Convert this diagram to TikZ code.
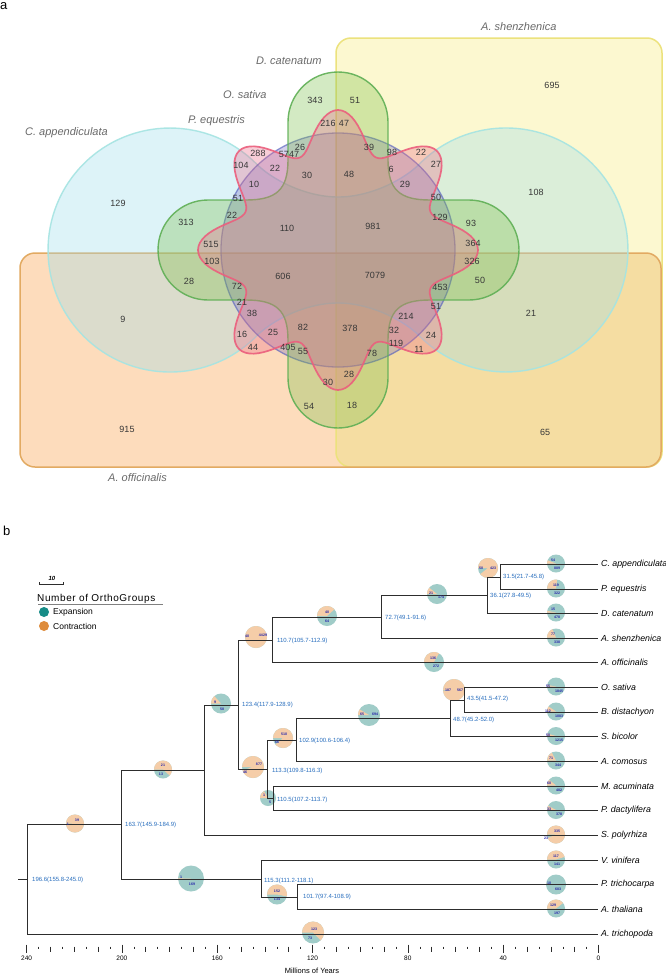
\documentclass[tikz,border=0pt]{standalone}
\usepackage{fontspec}
\setmainfont{Liberation Sans}
\definecolor{yelF}{RGB}{252,248,208}
\definecolor{yelD}{RGB}{236,226,125}
\definecolor{oraF}{RGB}{253,220,188}
\definecolor{oraD}{RGB}{226,170,98}
\definecolor{mixF}{RGB}{245,221,162}
\definecolor{cyaF}{RGB}{158,221,235}
\definecolor{cyaD}{RGB}{165,228,226}
\definecolor{bluF}{RGB}{110,100,190}
\definecolor{bluD}{RGB}{85,95,190}
\definecolor{greF}{RGB}{120,190,70}
\definecolor{greD}{RGB}{95,175,85}
\definecolor{pinF}{RGB}{235,110,140}
\definecolor{pinD}{RGB}{235,95,125}
\definecolor{vtxt}{RGB}{55,55,55}
\definecolor{vlab}{RGB}{105,105,105}
\definecolor{tealP}{RGB}{160,204,200}
\definecolor{oranP}{RGB}{245,205,168}
\definecolor{pnumc}{RGB}{40,40,170}
\definecolor{agec}{RGB}{40,110,190}
\definecolor{branchc}{RGB}{45,45,45}
\definecolor{legT}{RGB}{23,140,135}
\definecolor{legO}{RGB}{222,140,60}
\newcounter{nn}
\newcommand\vn[3]{\stepcounter{nn}\node[vnum] (v\arabic{nn}) at (#1,#2) {#3};}
\newcommand\pnum[3]{\stepcounter{nn}\node[pienum] (q\arabic{nn}) at (#1,#2) {#3};}
\newcommand\agelab[3]{\stepcounter{nn}\node[agelabel] (g\arabic{nn}) at (#1,#2) {#3};}
\newcommand\orthopie[4]{\stepcounter{nn}\coordinate (pc\arabic{nn}) at (#1,#2);%
 \fill[tealP] (pc\arabic{nn}) circle[radius=#3];%
 \fill[oranP] (pc\arabic{nn}) -- ++(180:#3) arc[start angle=180, end angle={180+#4}, radius=#3] -- cycle;}
\begin{document}
\begin{tikzpicture}[x=1pt,y=-1pt,
 vnum/.style={font=\fontsize{9}{9}\selectfont, text=vtxt, inner sep=0pt},
 vlabel/.style={font=\fontsize{11}{11}\selectfont\itshape, text=vlab, inner sep=0pt, anchor=west},
 pienum/.style={font=\fontsize{3.6}{4}\selectfont\bfseries, text=pnumc, inner sep=0pt},
 agelabel/.style={font=\fontsize{6}{6}\selectfont, text=agec, inner sep=0pt, anchor=west},
 tiplabel/.style={font=\fontsize{8.8}{9}\selectfont\itshape, inner sep=0pt, anchor=west},
 branch/.style={draw=branchc, line width=1.4pt},
 cya/.style={fill=cyaF, fill opacity=0.35, draw=cyaD, draw opacity=0.9, line width=1.4pt},
 blu/.style={fill=bluF, fill opacity=0.3, draw=bluD, draw opacity=0.65, line width=1.3pt},
 gre/.style={fill=greF, fill opacity=0.32, draw=greD, draw opacity=0.9, line width=1.4pt},
 pin/.style={fill=pinF, fill opacity=0.34, draw=pinD, draw opacity=0.9, line width=1.7pt},
 tick/.style={draw=branchc, line width=0.5pt}]
\useasboundingbox (0,0) rectangle (666,975);
\fill[white] (0,0) rectangle (666,975);
% ---------------- panel a ----------------
\node[anchor=west, inner sep=0pt, font=\fontsize{13}{13}\selectfont] (pa) at (0,6) {a};
\fill[yelF, rounded corners=15pt] (336,38) rectangle (662,467);
\fill[oraF, rounded corners=15pt] (20,253) rectangle (661,467);
\begin{scope}
\clip[rounded corners=15pt] (336,38) rectangle (662,467);
\fill[mixF, rounded corners=15pt] (20,253) rectangle (661,467);
\end{scope}
\draw[yelD, line width=1.5pt, rounded corners=15pt] (336,38) rectangle (662,467);
\draw[oraD, line width=1.5pt, rounded corners=15pt] (20,253) rectangle (661,467);
% dumbbell
\path[cya] (256.3,163.7) .. controls (271,179) and (305,197) .. (338,197)
  .. controls (371,197) and (405,179) .. (419.7,163.7)
  arc[start angle=-135, end angle=135, radius=122]
  .. controls (405,321) and (371,303) .. (338,303)
  .. controls (305,303) and (271,321) .. (256.3,336.3)
  arc[start angle=45, end angle=315, radius=122] -- cycle;
% blue circle
\path[blu] (338,250) circle[radius=117];
% green cross
\path[gre] (288,122) arc[start angle=180, end angle=360, radius=50]
  -- (388,160) .. controls (388,190) and (400,200) .. (430,200)
  -- (469,200) arc[start angle=-90, end angle=90, radius=50]
  -- (430,300) .. controls (400,300) and (388,310) .. (388,340)
  -- (388,378) arc[start angle=0, end angle=180, radius=50]
  -- (288,340) .. controls (288,310) and (276,300) .. (246,300)
  -- (208,300) arc[start angle=90, end angle=270, radius=50]
  -- (246,200) .. controls (276,200) and (288,190) .. (288,160) -- cycle;
% pink flower
\path[pin] plot[domain=0:358.5, samples=240, variable=\t]
  ({338+(120+20*cos(8*\t))*cos(\t)}, {250+(120+20*cos(8*\t))*sin(\t)}) -- cycle;
% labels
\node[vlabel] (lca) at (25,133) {C. appendiculata};
\node[vlabel] (lpe) at (188,121) {P. equestris};
\node[vlabel] (los) at (223,95) {O. sativa};
\node[vlabel] (ldc) at (256,61) {D. catenatum};
\node[vlabel] (las) at (481,27) {A. shenzhenica};
\node[vlabel] (lao) at (108,478) {A. officinalis};
% numbers
\vn{315}{100}{343}\vn{328}{123}{216}\vn{344}{123}{47}\vn{258}{153}{288}
\vn{289}{154}{5747}\vn{300}{147}{26}\vn{241}{165}{104}\vn{275}{168}{22}
\vn{307}{175}{30}\vn{254}{184}{10}\vn{238}{198}{51}\vn{118}{203}{129}
\vn{232}{215}{22}\vn{186}{222}{313}\vn{287}{228}{110}\vn{552}{85}{695}
\vn{355}{100}{51}\vn{369}{147}{39}\vn{392}{152}{98}\vn{421}{152}{22}
\vn{436}{164}{27}\vn{391}{169}{6}\vn{349}{174}{48}\vn{405}{184}{29}
\vn{536}{192}{108}\vn{436}{197}{50}\vn{440}{217}{129}\vn{471}{223}{93}
\vn{373}{226}{981}\vn{211}{244}{515}\vn{212}{261}{103}\vn{283}{276}{606}
\vn{189}{281}{28}\vn{237}{286}{72}\vn{242}{302}{21}\vn{123}{319}{9}
\vn{252}{313}{38}\vn{303}{327}{82}\vn{242}{334}{16}\vn{273}{332}{25}
\vn{253}{347}{44}\vn{288}{347}{405}\vn{303}{351}{55}\vn{328}{382}{30}
\vn{309}{406}{54}\vn{127}{429}{915}\vn{473}{243}{364}\vn{472}{261}{326}
\vn{375}{275}{7079}\vn{480}{280}{50}\vn{440}{287}{453}\vn{436}{306}{51}
\vn{531}{313}{21}\vn{406}{316}{214}\vn{350}{328}{378}\vn{394}{330}{32}
\vn{431}{335}{24}\vn{396}{343}{119}\vn{419}{349}{11}\vn{372}{353}{78}
\vn{349}{374}{28}\vn{352}{405}{18}\vn{545}{432}{65}
% ---------------- panel b ----------------
\node[anchor=west, inner sep=0pt, font=\fontsize{13}{13}\selectfont] (pb) at (3,531) {b};
% scale bar and legend
\node[inner sep=0pt, font=\fontsize{6}{6}\selectfont\bfseries\itshape] (sbl) at (52,578) {10};
\draw[line width=0.6pt, draw=branchc] (39,582) -- (39,584.5) -- (63,584.5) -- (63,582);
\node[anchor=west, inner sep=0pt, font=\fontsize{10}{10}\selectfont\addfontfeature{LetterSpace=6}] (lgt) at (37,599) {Number of OrthoGroups};
\draw[line width=0.5pt, draw=gray] (38,604.5) -- (163,604.5);
\fill[legT] (44,612) circle[radius=5];
\fill[legO] (44,626) circle[radius=5];
\node[anchor=west, inner sep=0pt, font=\fontsize{8.5}{9}\selectfont] (lge) at (53,612) {Expansion};
\node[anchor=west, inner sep=0pt, font=\fontsize{8.5}{9}\selectfont] (lgc) at (53,626) {Contraction};
% tree coordinates
\coordinate (t0) at (598,564.5); \coordinate (t1) at (598,589.5);
\coordinate (t2) at (598,613.5); \coordinate (t3) at (598,638.5);
\coordinate (t4) at (598,662.5); \coordinate (t5) at (598,687.5);
\coordinate (t6) at (598,712.5); \coordinate (t7) at (598,736.5);
\coordinate (t8) at (598,761.5); \coordinate (t9) at (598,786.5);
\coordinate (t10) at (598,810.5); \coordinate (t11) at (598,835.5);
\coordinate (t12) at (598,860.5); \coordinate (t13) at (598,884.5);
\coordinate (t14) at (598,909.5); \coordinate (t15) at (598,934.5);
\coordinate (n315) at (500.5,577.5);
\coordinate (n361) at (487.5,595.5);
\coordinate (n727) at (381.5,617.5);
\coordinate (n1107) at (272.5,640.5);
\coordinate (n435) at (464.5,700.5);
\coordinate (n487) at (450.5,718.5);
\coordinate (n1029) at (296.5,740.5);
\coordinate (n1105) at (273.5,798.5);
\coordinate (n1133) at (267.5,769.5);
\coordinate (n1234) at (238.5,705.5);
\coordinate (nS) at (204.5,770.5);
\coordinate (n1017) at (297.5,897.5);
\coordinate (n1153) at (261.5,879.5);
\coordinate (n1637) at (121.5,824.5);
\coordinate (root) at (27.5,879.5);
\coordinate (rs) at (18,879.5);
% pies
\orthopie{75}{823.5}{9}{351}
\orthopie{163}{769.5}{9}{222}
\orthopie{221}{703.5}{10}{48}
\orthopie{256}{637}{11}{357}
\orthopie{253}{767}{11}{342}
\orthopie{283}{738}{10}{319}
\orthopie{268}{798}{8}{60}
\orthopie{369}{715}{11}{31}
\orthopie{454}{690}{11}{355}
\orthopie{327}{616}{10}{138}
\orthopie{437}{594}{10}{39}
\orthopie{488}{568}{10}{322}
\orthopie{191}{878.5}{13}{2}
\orthopie{277}{894.5}{10}{191}
\orthopie{556}{563.5}{9}{21}
\orthopie{556}{588.5}{9}{97}
\orthopie{556}{612.5}{9}{11}
\orthopie{556}{637.5}{9}{67}
\orthopie{434}{662}{10}{120}
\orthopie{556}{686.5}{9}{10}
\orthopie{556}{711.5}{9}{34}
\orthopie{556}{736}{9}{16}
\orthopie{556}{760.5}{9}{62}
\orthopie{556}{785.5}{9}{40}
\orthopie{556}{810}{9}{29}
\orthopie{556}{834.5}{9}{337}
\orthopie{556}{859.5}{9}{163}
\orthopie{556}{884.5}{10}{5}
\orthopie{556}{908.5}{9}{142}
\orthopie{313}{932.5}{11}{226}
% branches
\draw[branch] (n315) |- (t0); \draw[branch] (n315) |- (t1);
\draw[branch] (n361) |- (n315); \draw[branch] (n361) |- (t2);
\draw[branch] (n727) |- (n361); \draw[branch] (n727) |- (t3);
\draw[branch] (n1107) |- (n727); \draw[branch] (n1107) |- (t4);
\draw[branch] (n435) |- (t5); \draw[branch] (n435) |- (t6);
\draw[branch] (n487) |- (n435); \draw[branch] (n487) |- (t7);
\draw[branch] (n1029) |- (n487); \draw[branch] (n1029) |- (t8);
\draw[branch] (n1105) |- (t9); \draw[branch] (n1105) |- (t10);
\draw[branch] (n1133) |- (n1029); \draw[branch] (n1133) |- (n1105);
\draw[branch] (n1234) |- (n1107); \draw[branch] (n1234) |- (n1133);
\draw[branch] (nS) |- (n1234); \draw[branch] (nS) |- (t11);
\draw[branch] (n1017) |- (t13); \draw[branch] (n1017) |- (t14);
\draw[branch] (n1153) |- (t12); \draw[branch] (n1153) |- (n1017);
\draw[branch] (n1637) |- (nS); \draw[branch] (n1637) |- (n1153);
\draw[branch] (root) |- (n1637); \draw[branch] (root) |- (t15);
\draw[branch] (rs) -- (root);
% pie numbers
\pnum{77}{820}{39}\pnum{68}{824}{1}
\pnum{163}{765}{21}\pnum{161}{774}{13}
\pnum{215}{702}{9}\pnum{222}{709}{58}
\pnum{247}{636}{40}\pnum{263}{635}{4429}
\pnum{259}{764}{877}\pnum{245}{772}{46}
\pnum{284}{734}{510}\pnum{277}{742}{66}
\pnum{264}{795}{1}\pnum{270}{802}{5}
\pnum{362}{714}{65}\pnum{375}{714}{694}
\pnum{448}{690}{187}\pnum{460}{690}{567}
\pnum{327}{612}{40}\pnum{327}{621}{64}
\pnum{431}{593}{21}\pnum{441}{597}{174}
\pnum{481}{568}{50}\pnum{493}{568}{423}
\pnum{181}{877}{1}\pnum{192}{884}{169}
\pnum{277}{891}{152}\pnum{277}{899}{134}
\pnum{553}{560}{54}\pnum{557}{568}{889}
\pnum{556}{585}{119}\pnum{557}{593}{322}
\pnum{553}{609}{15}\pnum{557}{617}{478}
\pnum{553}{634}{77}\pnum{557}{642}{338}
\pnum{433}{658}{136}\pnum{436}{666}{272}
\pnum{548}{686}{55}\pnum{559}{691}{1845}
\pnum{548}{711}{112}\pnum{559}{716}{1083}
\pnum{548}{735}{58}\pnum{559}{740}{1215}
\pnum{551}{758}{71}\pnum{558}{765}{344}
\pnum{549}{783}{60}\pnum{559}{790}{482}
\pnum{549}{809}{33}\pnum{559}{814}{378}
\pnum{557}{831}{335}\pnum{546}{838}{23}
\pnum{556}{856}{117}\pnum{557}{864}{141}
\pnum{549}{883}{10}\pnum{558}{889}{683}
\pnum{553}{905}{129}\pnum{557}{913}{197}
\pnum{314}{929}{123}\pnum{310}{938}{73}
% age labels
\agelab{32}{879.5}{196.6(155.8-245.0)}
\agelab{125}{824.5}{163.7(145.9-184.9)}
\agelab{242}{705}{123.4(117.9-128.9)}
\agelab{277}{641}{110.7(105.7-112.9)}
\agelab{272}{771}{113.3(109.8-116.3)}
\agelab{299}{741}{102.9(100.6-106.4)}
\agelab{277}{799.5}{110.5(107.2-113.7)}
\agelab{385}{618}{72.7(49.1-91.6)}
\agelab{490}{596}{36.1(27.8-49.5)}
\agelab{503}{576.5}{31.5(21.7-45.8)}
\agelab{467}{699}{43.5(41.5-47.2)}
\agelab{453}{720}{48.7(45.2-52.0)}
\agelab{264}{881}{115.3(111.2-118.1)}
\agelab{303}{897}{101.7(97.4-108.9)}
% tip labels
\node[tiplabel] (l0) at (601,564.5) {C. appendiculata};
\node[tiplabel] (l1) at (601,589.5) {P. equestris};
\node[tiplabel] (l2) at (601,613.5) {D. catenatum};
\node[tiplabel] (l3) at (601,638.5) {A. shenzhenica};
\node[tiplabel] (l4) at (601,662.5) {A. officinalis};
\node[tiplabel] (l5) at (601,687.5) {O. sativa};
\node[tiplabel] (l6) at (601,712.5) {B. distachyon};
\node[tiplabel] (l7) at (601,736.5) {S. bicolor};
\node[tiplabel] (l8) at (601,761.5) {A. comosus};
\node[tiplabel] (l9) at (601,786.5) {M. acuminata};
\node[tiplabel] (l10) at (601,810.5) {P. dactylifera};
\node[tiplabel] (l11) at (601,835.5) {S. polyrhiza};
\node[tiplabel] (l12) at (601,860.5) {V. vinifera};
\node[tiplabel] (l13) at (601,884.5) {P. trichocarpa};
\node[tiplabel] (l14) at (601,909.5) {A. thaliana};
\node[tiplabel] (l15) at (601,934.5) {A. trichopoda};
% time axis
\foreach \t in {0,5,...,240} {
  \pgfmathsetmacro\xx{598.5-2.383*\t}
  \pgfmathtruncatemacro\mten{mod(\t,10)}
  \pgfmathtruncatemacro\mfor{mod(\t,40)}
  \ifnum\mfor=0
    \draw[tick, line width=0.7pt] (\xx,944.5) -- (\xx,952.5);
  \else\ifnum\mten=0
    \draw[tick] (\xx,946.5) -- (\xx,952);
  \else
    \draw[tick] (\xx,946.5) -- (\xx,949);
  \fi\fi
}
\foreach \t in {0,40,...,240} {
  \pgfmathsetmacro\xx{598.5-2.383*\t}
  \node[inner sep=0pt, font=\fontsize{6.5}{7}\selectfont] (ax\t) at (\xx,958) {\t};
}
\node[inner sep=0pt, font=\fontsize{7.5}{8}\selectfont] (axt) at (312,971) {Millions of Years};
\end{tikzpicture}
\end{document}
